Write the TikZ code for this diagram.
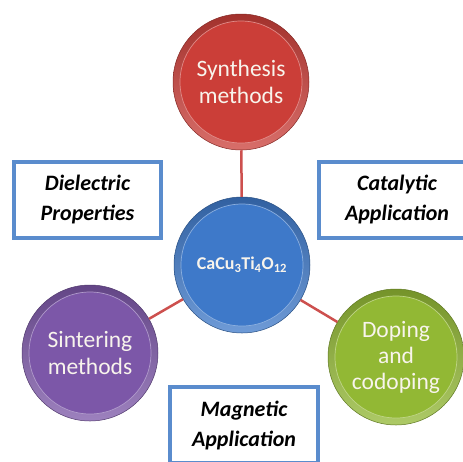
\documentclass[tikz,border=0pt]{standalone}
\usepackage{fontspec}
\setmainfont{Carlito}
\usepackage{tikz}
\usetikzlibrary{positioning, shadings}
\definecolor{SynthRed}{RGB}{203, 62, 56}
\definecolor{CoreBlue}{RGB}{62, 121, 201}
\definecolor{SinterPurple}{RGB}{124, 87, 168}
\definecolor{DopeGreen}{RGB}{146, 184, 52}
\definecolor{BoxBlue}{RGB}{90, 140, 205}
\definecolor{LinkRed}{RGB}{205, 80, 78}
\definecolor{TopicText}{RGB}{248, 244, 236}

\tikzset{
    topic/.style={circle, minimum size=136pt, inner sep=0pt, align=center,
        draw=#1!65!black, line width=0.5pt,
        top color=#1!80!black, bottom color=#1!75!white,
        text=TopicText, font=\fontsize{23.5}{27}\selectfont,
        path picture={
            \fill[#1] (path picture bounding box.center) circle (61pt);
            \draw[#1!60!white, line width=0.7pt] (path picture bounding box.center) circle (61pt);
        }},
    infobox/.style={draw=BoxBlue, line width=4pt, fill=white, align=center,
        minimum width=#1, minimum height=76pt, inner sep=0pt,
        font=\bfseries\itshape\fontsize{22}{30}\selectfont},
    link/.style={LinkRed, line width=2.5pt}
}

\begin{document}
\begin{tikzpicture}[x=1pt, y=-1pt]
    \useasboundingbox (0,0) rectangle (463,461);
    \clip (0,0) rectangle (463,461);
    % topics
    \node[topic=SynthRed] (synth) at (241,82) {Synthesis\\methods};
    \node[topic=CoreBlue, font=\bfseries\fontsize{18}{20}\selectfont] (core) at (242,265)
        {CaCu\textsubscript{3}Ti\textsubscript{4}O\textsubscript{12}};
    \node[topic=SinterPurple] (sinter) at (90,353) {Sintering\\methods};
    \node[topic=DopeGreen, font=\fontsize{23.5}{26}\selectfont] (dope) at (396,357) {Doping\\and\\codoping};
    % links
    \draw[link] (core) -- (synth);
    \draw[link] (core) -- (sinter);
    \draw[link] (core) -- (dope);
    % properties
    \node[infobox=147pt] (diel) at (87.5,200) {Dielectric\\Properties};
    \node[infobox=156pt] (cata) at (397,200) {Catalytic\\Application};
    \node[infobox=148pt] (magn) at (244,425) {Magnetic\\Application};
\end{tikzpicture}
\end{document}
